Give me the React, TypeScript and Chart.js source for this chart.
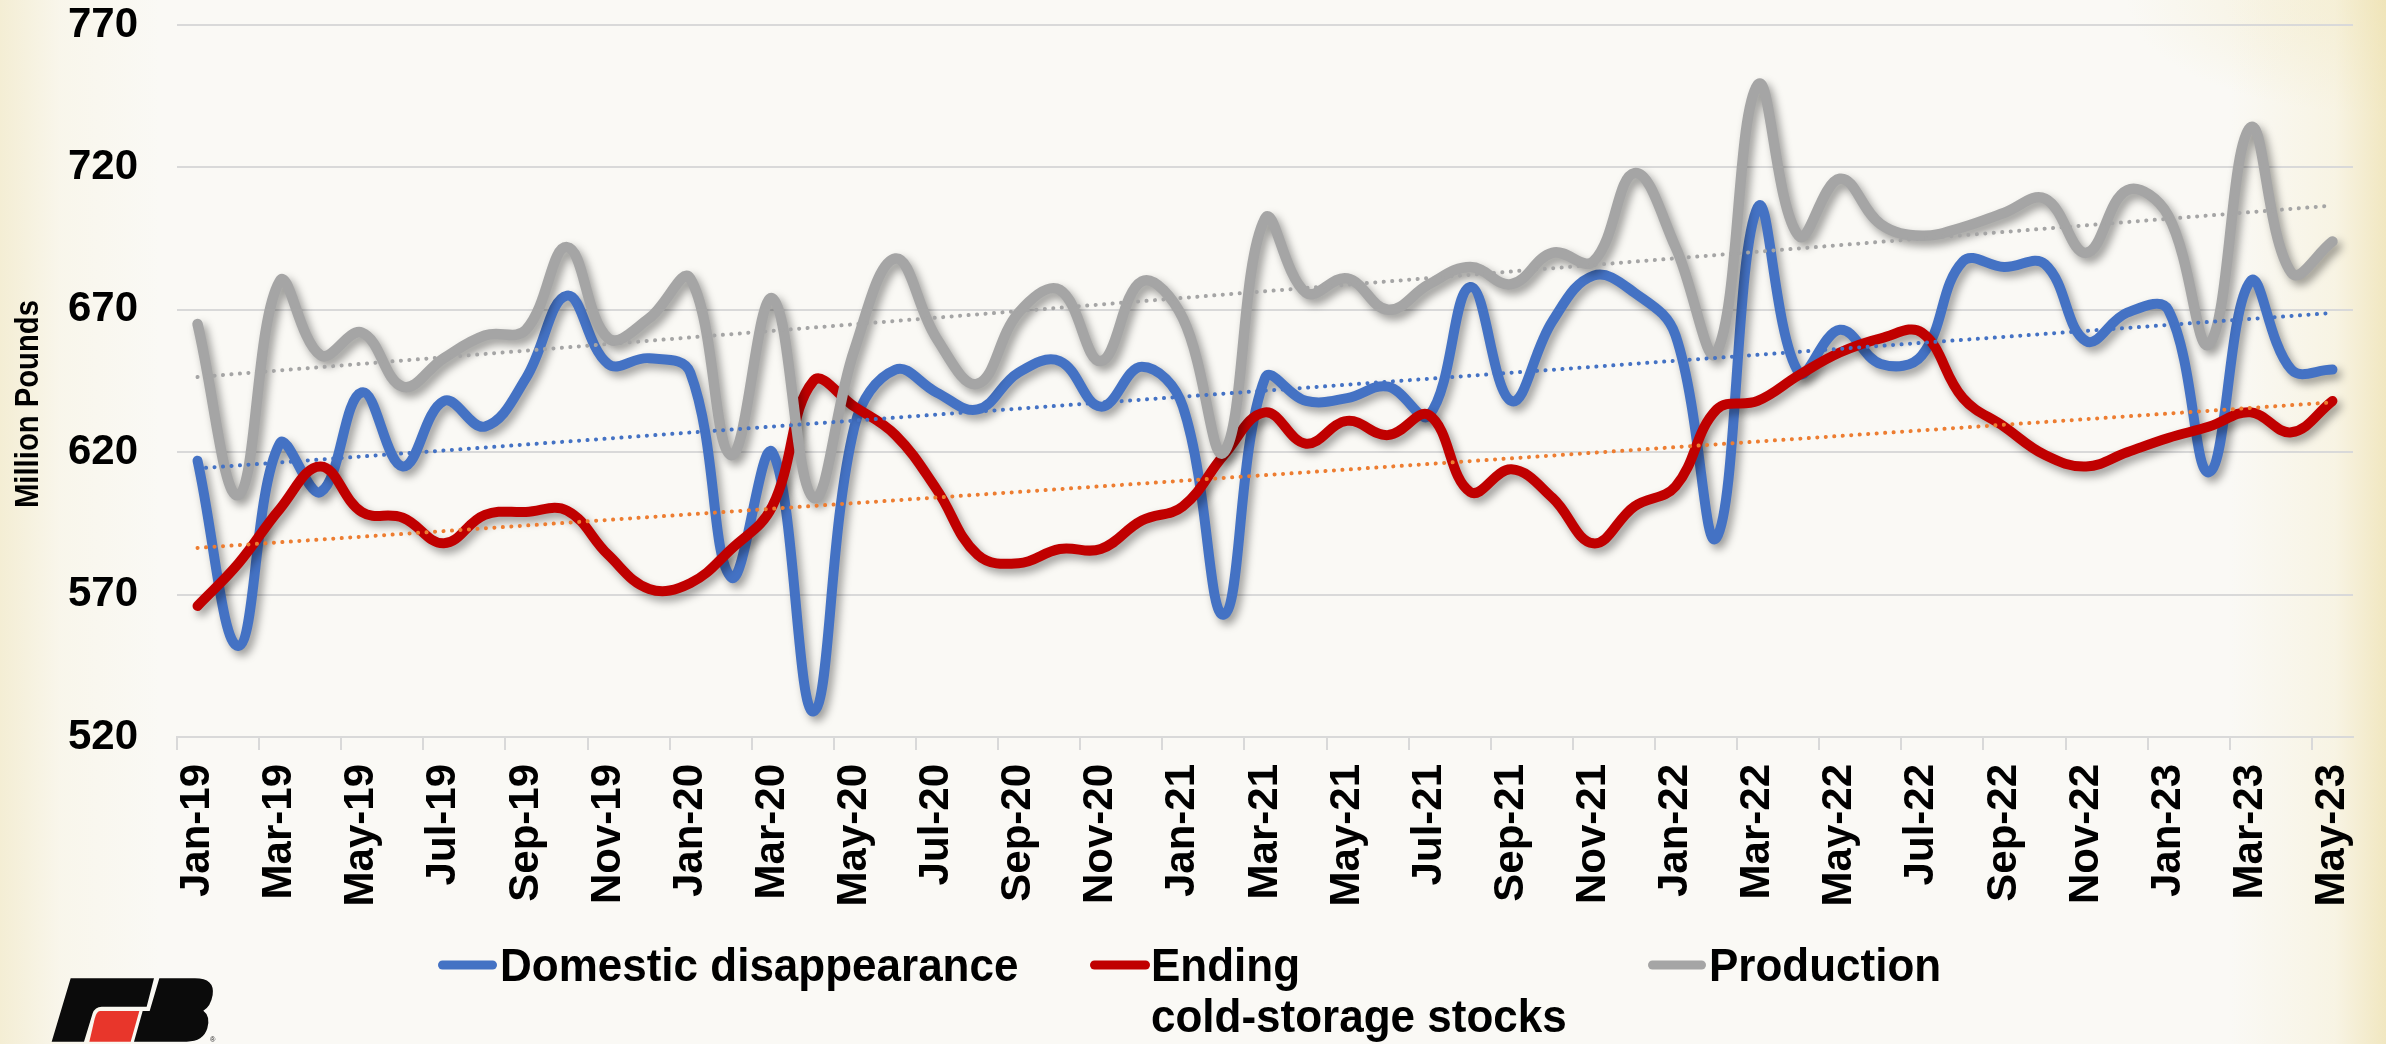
import React, { useEffect, useRef } from 'react';
import { Chart, registerables } from 'chart.js';

Chart.register(...registerables);

const W = 2386;
const H = 1044;

const months = [
  'Jan-19', 'Feb-19', 'Mar-19', 'Apr-19', 'May-19', 'Jun-19', 'Jul-19', 'Aug-19', 'Sep-19', 'Oct-19', 'Nov-19', 'Dec-19',
  'Jan-20', 'Feb-20', 'Mar-20', 'Apr-20', 'May-20', 'Jun-20', 'Jul-20', 'Aug-20', 'Sep-20', 'Oct-20', 'Nov-20', 'Dec-20',
  'Jan-21', 'Feb-21', 'Mar-21', 'Apr-21', 'May-21', 'Jun-21', 'Jul-21', 'Aug-21', 'Sep-21', 'Oct-21', 'Nov-21', 'Dec-21',
  'Jan-22', 'Feb-22', 'Mar-22', 'Apr-22', 'May-22', 'Jun-22', 'Jul-22', 'Aug-22', 'Sep-22', 'Oct-22', 'Nov-22', 'Dec-22',
  'Jan-23', 'Feb-23', 'Mar-23', 'Apr-23', 'May-23',
];

const domestic = [
  617, 552, 623, 606, 641, 615, 638, 629, 646, 675, 651, 653,
  648, 576, 620, 529, 629, 649, 641, 635, 648, 652, 636, 650,
  636, 563, 646, 638, 639, 643, 633, 678, 638, 666, 682, 676,
  661, 590, 706, 648, 663, 651, 654, 687, 685, 686, 659, 669,
  670, 613, 680, 649, 649,
];

const stocks = [
  566, 581, 600, 615, 599, 597, 588, 598, 599, 599.5, 584, 572,
  574, 586, 601, 645, 636, 626, 607, 584, 581, 586, 586, 596,
  601, 619, 634, 623, 631, 626, 633, 606, 614, 604, 588, 601,
  608, 635, 638, 647, 655, 660, 662, 639, 629, 619, 615, 620,
  625, 629, 634, 627, 638,
];

const production = [
  665, 605, 680, 654, 662, 643, 653, 661, 663, 692, 660, 667,
  681, 619, 674, 604, 656, 688, 660, 644, 669, 677, 652, 680,
  667, 620, 702, 676, 681, 670, 679, 685, 679, 690, 687, 718,
  692, 655, 749, 696, 716, 700, 696, 699, 704, 709, 690, 712,
  703, 658, 734, 683, 694,
];

// Linear trendlines: value at first and last month
const trendDomestic = [614.3, 668.9];
const trendStocks = [586.4, 637.5];
const trendProduction = [646.4, 706.6];

const yTicks = [520, 570, 620, 670, 720, 770];

const seriesNames = ['Domestic disappearance', 'Ending cold-storage stocks', 'Production'];
const yTitle = 'Million Pounds';

const BLUE = '#4472C4';
const RED = '#C00000';
const GRAY = '#A5A5A5';
const ORANGE = '#ED7D31';
const FONT = "'Liberation Sans', Arial, sans-serif";

const PLOT = { left: 177, right: 2353, top: 25, bottom: 737 };

const trendData = (t: number[]) =>
  months.map((_, i) => (i === 0 ? t[0] : i === months.length - 1 ? t[1] : null));

const shadowPlugin = {
  id: 'lineShadow',
  beforeDatasetDraw(chart: any, args: any) {
    const ds = chart.data.datasets[args.index];
    if (!ds._shadow) return;
    const ctx = chart.ctx;
    ctx.save();
    ctx.shadowColor = 'rgba(0,0,0,0.38)';
    ctx.shadowBlur = 8;
    ctx.shadowOffsetX = 4;
    ctx.shadowOffsetY = 5;
  },
  afterDatasetDraw(chart: any, args: any) {
    const ds = chart.data.datasets[args.index];
    if (!ds._shadow) return;
    chart.ctx.restore();
  },
};

const legendItems = [
  { lines: ['Domestic disappearance'], color: BLUE, x0: 438, x1: 497, tx: 500 },
  { lines: ['Ending', 'cold-storage stocks'], color: RED, x0: 1090, x1: 1150, tx: 1151 },
  { lines: ['Production'], color: GRAY, x0: 1648, x1: 1706, tx: 1709 },
];

const decorPlugin = {
  id: 'decor',
  afterDraw(chart: any) {
    const ctx = chart.ctx as CanvasRenderingContext2D;
    // Y axis title
    ctx.save();
    ctx.translate(38, 404);
    ctx.rotate(-Math.PI / 2);
    ctx.fillStyle = '#000';
    ctx.font = `bold 33px ${FONT}`;
    ctx.textAlign = 'center';
    ctx.textBaseline = 'alphabetic';
    ctx.fillText(yTitle, 0, 0, 208);
    ctx.restore();

    // Legend
    legendItems.forEach((it) => {
      ctx.save();
      ctx.strokeStyle = it.color;
      ctx.lineWidth = 9;
      ctx.lineCap = 'round';
      ctx.beginPath();
      ctx.moveTo(it.x0 + 4.5, 965);
      ctx.lineTo(it.x1 - 4.5, 965);
      ctx.stroke();
      ctx.fillStyle = '#000';
      ctx.font = `bold 44px ${FONT}`;
      ctx.textAlign = 'left';
      ctx.textBaseline = 'alphabetic';
      it.lines.forEach((ln, k) => {
        ctx.save();
        ctx.translate(it.tx, 981 + k * 51);
        ctx.scale(1, 1.05);
        ctx.fillText(ln, 0, 0);
        ctx.restore();
      });
      ctx.restore();
    });
  },
};

function Logo() {
  return (
    <svg
      viewBox="0 0 780 312"
      width={260}
      height={104}
      style={{ position: 'absolute', left: 0, top: 940 }}
    >
      <path d="M212,115 L462,115 L440,200 L305,200 Q285,200 278,220 L252,305 L155,305 Z" fill="#0b0b0b" />
      <path d="M300,213 L418,213 L392,305 L268,305 L284,236 Q290,213 300,213 Z" fill="#E8362B" />
      <path
        d="M478,115 L585,115 Q645,115 638,165 Q632,200 610,212 Q632,228 622,265 Q610,305 560,305 L402,305 L428,213 L449,213 Z"
        fill="#0b0b0b"
      />
      <text x="630" y="305" fontSize="22" fill="#222" fontFamily="Arial, sans-serif">®</text>
    </svg>
  );
}

export default function App() {
  const ref = useRef<HTMLCanvasElement>(null);

  useEffect(() => {
    document.body.style.margin = '0';
    const canvas = ref.current;
    if (!canvas) return;
    const chart = new Chart(canvas, {
      type: 'line',
      data: {
        labels: months,
        datasets: [
          {
            label: 'Domestic trend',
            data: trendData(trendDomestic),
            borderColor: BLUE,
            borderWidth: 4,
            borderDash: [0.1, 8.4],
            borderCapStyle: 'round',
            spanGaps: true,
            tension: 0,
            pointRadius: 0,
            order: 0,
          } as any,
          {
            label: 'Stocks trend',
            data: trendData(trendStocks),
            borderColor: ORANGE,
            borderWidth: 4,
            borderDash: [0.1, 8.4],
            borderCapStyle: 'round',
            spanGaps: true,
            tension: 0,
            pointRadius: 0,
            order: 0,
          } as any,
          {
            label: 'Production trend',
            data: trendData(trendProduction),
            borderColor: GRAY,
            borderWidth: 4,
            borderDash: [0.1, 8.4],
            borderCapStyle: 'round',
            spanGaps: true,
            tension: 0,
            pointRadius: 0,
            order: 0,
          } as any,
          {
            label: seriesNames[2],
            data: production,
            borderColor: GRAY,
            borderWidth: 10.5,
            tension: 0.4,
            pointRadius: 0,
            borderCapStyle: 'round',
            borderJoinStyle: 'round',
            order: 1,
            _shadow: true,
          } as any,
          {
            label: seriesNames[1],
            data: stocks,
            borderColor: RED,
            borderWidth: 10,
            tension: 0.4,
            pointRadius: 0,
            borderCapStyle: 'round',
            borderJoinStyle: 'round',
            order: 2,
            _shadow: true,
          } as any,
          {
            label: seriesNames[0],
            data: domestic,
            borderColor: BLUE,
            borderWidth: 10,
            tension: 0.4,
            pointRadius: 0,
            borderCapStyle: 'round',
            borderJoinStyle: 'round',
            order: 3,
            _shadow: true,
          } as any,
        ],
      },
      options: {
        responsive: false,
        animation: false,
        events: [],
        layout: { padding: { top: PLOT.top, right: W - PLOT.right, bottom: 0, left: 0 } },
        plugins: {
          legend: { display: false },
          tooltip: { enabled: false },
          title: { display: false },
        },
        scales: {
          x: {
            type: 'category',
            offset: true,
            grid: {
              offset: true,
              drawOnChartArea: false,
              drawTicks: true,
              tickLength: 13,
              lineWidth: 2,
              color: (c: any) => (typeof c.index === 'number' && c.index % 2 === 0 ? '#D9D9D9' : 'rgba(0,0,0,0)'),
            },
            border: { display: true, color: '#D9D9D9', width: 2 },
            ticks: {
              autoSkip: false,
              maxRotation: 90,
              minRotation: 90,
              padding: 14,
              color: '#000',
              font: { family: FONT, size: 42, weight: 'bold' },
              callback: (_v: any, i: number) => (i % 2 === 0 ? months[i] : ''),
            },
            afterFit: (s: any) => {
              s.height = H - PLOT.bottom;
              s.paddingLeft = 0;
              s.paddingRight = 0;
            },
          } as any,
          y: {
            min: yTicks[0],
            max: yTicks[yTicks.length - 1],
            afterBuildTicks: (s: any) => {
              s.ticks = yTicks.map((v) => ({ value: v }));
            },
            ticks: {
              stepSize: 50,
              padding: 39,
              color: '#000',
              font: { family: FONT, size: 42, weight: 'bold' },
            },
            grid: { color: '#D9D9D9', lineWidth: 2, drawTicks: false },
            border: { display: false },
            afterFit: (s: any) => {
              s.width = PLOT.left;
              s.paddingTop = 0;
              s.paddingBottom = 0;
            },
          } as any,
        },
      } as any,
      plugins: [shadowPlugin, decorPlugin],
    });
    return () => chart.destroy();
  }, []);

  const bg =
    'linear-gradient(90deg, rgba(240,230,190,0.6) 0px, rgba(246,241,220,0.4) 60px, rgba(250,249,245,0) 160px, rgba(250,249,245,0) 2230px, rgba(245,238,210,0.5) 2335px, rgba(238,225,175,0.75) 2386px), ' +
    'radial-gradient(ellipse at 100% 0%, rgba(236,222,165,0.4) 0px, rgba(236,222,165,0) 260px), ' +
    '#FAF9F5';

  return (
    <div
      style={{
        position: 'fixed',
        left: 0,
        top: 0,
        width: W,
        height: H,
        overflow: 'hidden',
        background: bg,
      }}
    >
      <canvas
        ref={ref}
        width={W}
        height={H}
        style={{ position: 'absolute', left: 0, top: 0, width: W, height: H, display: 'block' }}
      />
      <Logo />
    </div>
  );
}
